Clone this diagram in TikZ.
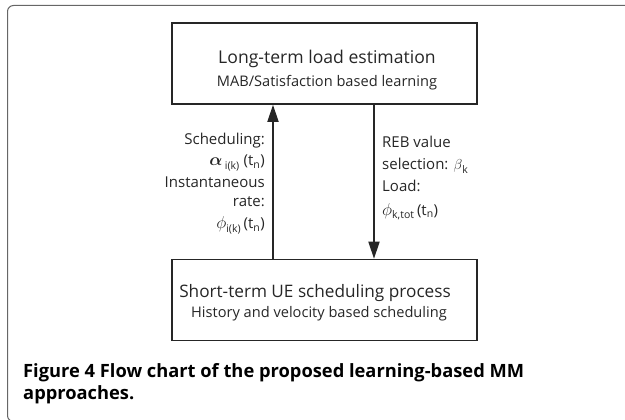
\documentclass[tikz,border=0pt]{standalone}
\usepackage{fontspec}
\setmainfont{Open Sans}
\usepackage{amsmath,bm}
\usetikzlibrary{arrows.meta}
\newcommand{\bigphi}{{\fontsize{18}{20}\selectfont$\phi$}}
\newcommand{\bigalpha}{{\fontsize{17}{20}\selectfont$\boldsymbol{\alpha}$}}
\begin{document}
\begin{tikzpicture}[x=1pt,y=-1pt,
  box/.style={draw=black!85, line width=1.6pt, minimum width=305pt, minimum height=81pt, inner sep=0pt},
  arr/.style={draw=black!85, line width=1.8pt, -{Triangle[length=17pt,width=11pt]}},
  big/.style={inner sep=0pt, font=\fontsize{17.6}{20}\selectfont, text=black!85},
  small/.style={inner sep=0pt, font=\fontsize{14.6}{17}\selectfont, text=black!85},
  lab/.style={inner sep=0pt, font=\fontsize{15}{18}\selectfont, text=black!85},
  capt/.style={inner sep=0pt, anchor=base west, font=\fontsize{18.3}{22}\selectfont\bfseries, text=black}]
\useasboundingbox (0,0) rectangle (625,420);
% outer frame
\draw[black!60, line width=1pt, rounded corners=6pt] (632,5.5) -- (7.5,5.5) -- (7.5,421.5) -- (632,421.5);
% boxes
\node[box] (top) at (324.5,63.5) {};
\node[big, anchor=base] (t1) at (327,64) {Long-term load estimation};
\node[small, anchor=base] (t2) at (327,87) {MAB/Satisfaction based learning};
\node[box] (bot) at (324.5,300) {};
\node[big, anchor=base] (b1) at (315,297) {\fontsize{17.2}{20}\selectfont Short-term UE scheduling process};
\node[small, anchor=base] (b2) at (319,317) {History and velocity based scheduling};
% arrows
\coordinate (ux) at (273,0);
\coordinate (dx) at (374,0);
\draw[arr] (bot.north -| ux) -- (top.south -| ux);
\draw[arr] (top.south -| dx) -- (bot.north -| dx);
% left labels
\node[lab, anchor=base east] (l1) at (265,145) {Scheduling:};
\node[lab, anchor=base east] (l2) at (265,166) {\bigalpha\,\textsubscript{i(k)} (t\textsubscript{n})};
\node[lab, anchor=base east] (l3) at (265,187) {Instantaneous};
\node[lab, anchor=base east] (l4) at (265,207) {rate:};
\node[lab, anchor=base east] (l5) at (265,229) {\bigphi\textsubscript{i(k)}\,(t\textsubscript{n})};
% right labels
\node[lab, anchor=base west] (r1) at (382,148) {REB value};
\node[lab, anchor=base west] (r2) at (382,170) {selection: $\beta$\textsubscript{k}};
\node[lab, anchor=base west] (r3) at (382,192) {Load:};
\node[lab, anchor=base west] (r4) at (382,215) {\bigphi\textsubscript{k,tot}\,(t\textsubscript{n})};
% caption
\node[capt] (c1) at (23,377) {Figure 4 Flow chart of the proposed learning-based MM};
\node[capt] (c2) at (23,399) {approaches.};
\end{tikzpicture}
\end{document}
